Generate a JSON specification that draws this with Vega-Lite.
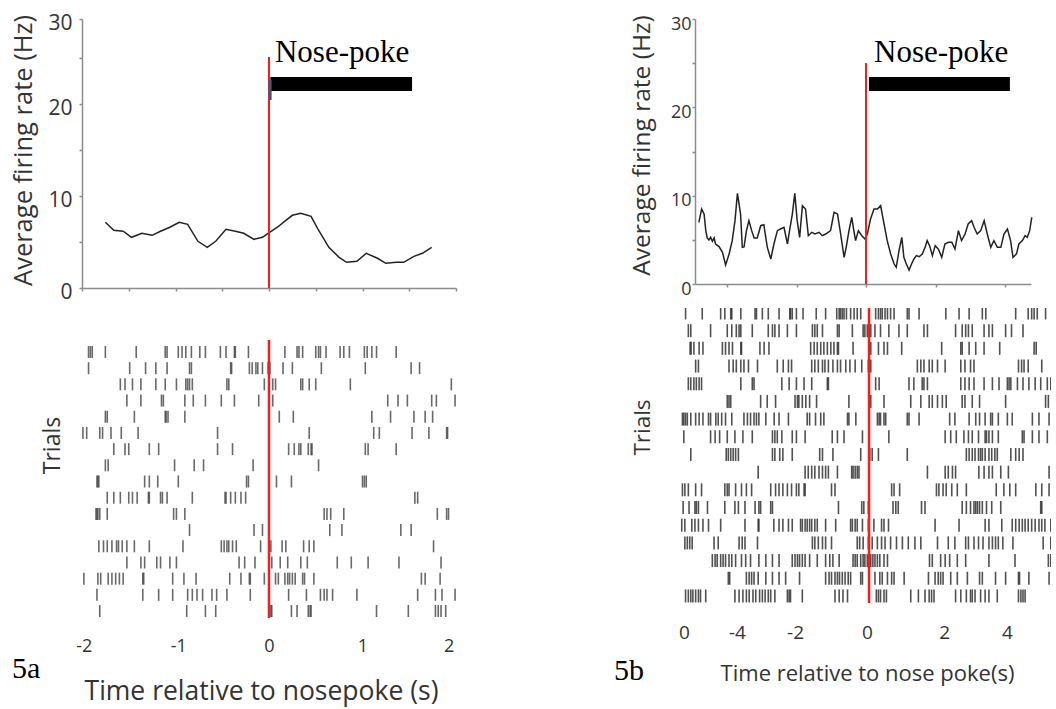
{
"$schema":"https://vega.github.io/schema/vega-lite/v6.json",
"background":"white",
"padding":{"left":10,"top":12,"right":0,"bottom":2},
"bounds":"flush",
"spacing":593,
"config":{"view":{"stroke":null},"axis":{"grid":false,"domainColor":"#8c8c8c","domainWidth":1.5,"tickColor":"#8c8c8c","tickWidth":1.5,"tickSize":3,"labelFont":"Open Sans","labelColor":"#333","titleFont":"Open Sans","titleColor":"#333","titleFontWeight":"normal","labelFlush":false,"labelOverlap":false}},
"datasets":{
"pa":[{"t":-1.75,"v":7.16},{"t":-1.66,"v":6.29},{"t":-1.56,"v":6.18},{"t":-1.47,"v":5.52},{"t":-1.36,"v":5.96},{"t":-1.25,"v":5.74},{"t":-1.16,"v":6.18},{"t":-1.06,"v":6.62},{"t":-0.96,"v":7.16},{"t":-0.87,"v":6.94},{"t":-0.76,"v":5.09},{"t":-0.66,"v":4.43},{"t":-0.57,"v":5.09},{"t":-0.46,"v":6.4},{"t":-0.36,"v":6.18},{"t":-0.27,"v":5.96},{"t":-0.16,"v":5.3},{"t":-0.07,"v":5.52},{"t":-0.01,"v":5.96},{"t":0.09,"v":6.62},{"t":0.18,"v":7.37},{"t":0.25,"v":7.92},{"t":0.34,"v":8.14},{"t":0.45,"v":7.81},{"t":0.53,"v":6.29},{"t":0.64,"v":4.43},{"t":0.75,"v":3.34},{"t":0.83,"v":2.8},{"t":0.94,"v":2.91},{"t":1.04,"v":3.78},{"t":1.16,"v":3.24},{"t":1.25,"v":2.69},{"t":1.36,"v":2.8},{"t":1.44,"v":2.8},{"t":1.55,"v":3.45},{"t":1.64,"v":3.78},{"t":1.74,"v":4.43}],
"pb":[{"t":-4.81,"v":6.98},{"t":-4.73,"v":8.49},{"t":-4.66,"v":7.92},{"t":-4.61,"v":6.04},{"t":-4.57,"v":5.21},{"t":-4.52,"v":4.98},{"t":-4.47,"v":5.28},{"t":-4.42,"v":4.83},{"t":-4.37,"v":5.21},{"t":-4.33,"v":4.53},{"t":-4.23,"v":4.23},{"t":-4.13,"v":3.58},{"t":-4.04,"v":2.15},{"t":-3.94,"v":3.4},{"t":-3.85,"v":4.91},{"t":-3.77,"v":7.17},{"t":-3.7,"v":10.26},{"t":-3.61,"v":7.92},{"t":-3.56,"v":4.15},{"t":-3.51,"v":4.2},{"t":-3.44,"v":6.04},{"t":-3.37,"v":7.17},{"t":-3.29,"v":6.04},{"t":-3.22,"v":5.21},{"t":-3.13,"v":5.21},{"t":-3.03,"v":6.6},{"t":-2.94,"v":6.72},{"t":-2.84,"v":4.15},{"t":-2.74,"v":2.83},{"t":-2.65,"v":4.53},{"t":-2.55,"v":6.04},{"t":-2.46,"v":6.23},{"t":-2.36,"v":6.42},{"t":-2.26,"v":4.53},{"t":-2.2,"v":6.04},{"t":-2.12,"v":7.92},{"t":-2.05,"v":10.26},{"t":-1.98,"v":7.17},{"t":-1.91,"v":5.28},{"t":-1.83,"v":8.87},{"t":-1.74,"v":8.49},{"t":-1.66,"v":5.47},{"t":-1.56,"v":5.85},{"t":-1.47,"v":5.66},{"t":-1.35,"v":5.85},{"t":-1.26,"v":5.47},{"t":-1.16,"v":5.66},{"t":-1.02,"v":6.04},{"t":-0.92,"v":8.11},{"t":-0.82,"v":7.92},{"t":-0.73,"v":5.66},{"t":-0.63,"v":3.02},{"t":-0.57,"v":4.15},{"t":-0.49,"v":6.04},{"t":-0.41,"v":7.55},{"t":-0.35,"v":6.04},{"t":-0.3,"v":4.91},{"t":-0.22,"v":6.04},{"t":-0.12,"v":5.47},{"t":-0.03,"v":5.09},{"t":0.04,"v":5.66},{"t":0.13,"v":7.36},{"t":0.23,"v":8.49},{"t":0.33,"v":8.49},{"t":0.42,"v":8.87},{"t":0.52,"v":6.79},{"t":0.61,"v":4.91},{"t":0.71,"v":3.4},{"t":0.81,"v":2.26},{"t":0.87,"v":1.89},{"t":0.95,"v":3.77},{"t":1.03,"v":5.28},{"t":1.09,"v":3.02},{"t":1.16,"v":2.26},{"t":1.24,"v":1.58},{"t":1.31,"v":2.26},{"t":1.38,"v":2.83},{"t":1.45,"v":3.21},{"t":1.53,"v":3.09},{"t":1.62,"v":3.4},{"t":1.7,"v":4.15},{"t":1.76,"v":4.91},{"t":1.83,"v":4.34},{"t":1.91,"v":3.21},{"t":1.99,"v":4.34},{"t":2.08,"v":3.96},{"t":2.18,"v":3.02},{"t":2.27,"v":4.53},{"t":2.37,"v":4.72},{"t":2.47,"v":4.72},{"t":2.56,"v":3.96},{"t":2.66,"v":6.04},{"t":2.75,"v":4.91},{"t":2.85,"v":5.66},{"t":2.94,"v":6.79},{"t":3.04,"v":7.17},{"t":3.11,"v":6.42},{"t":3.2,"v":5.66},{"t":3.3,"v":6.04},{"t":3.4,"v":7.17},{"t":3.49,"v":5.66},{"t":3.59,"v":4.15},{"t":3.68,"v":4.91},{"t":3.78,"v":4.15},{"t":3.88,"v":4.15},{"t":3.97,"v":5.66},{"t":4.07,"v":6.23},{"t":4.16,"v":4.91},{"t":4.23,"v":3.02},{"t":4.33,"v":3.4},{"t":4.4,"v":4.53},{"t":4.5,"v":4.91},{"t":4.58,"v":5.47},{"t":4.64,"v":5.28},{"t":4.71,"v":6.04},{"t":4.77,"v":7.55}],
"ra":[
{"r":1,"t":-1.93},{"r":1,"t":-1.91},{"r":1,"t":-1.89},{"r":1,"t":-1.75},{"r":1,"t":-1.42},{"r":1,"t":-1.11},{"r":1,"t":-1.09},{"r":1,"t":-0.97},{"r":1,"t":-0.93},{"r":1,"t":-0.89},{"r":1,"t":-0.83},{"r":1,"t":-0.74},{"r":1,"t":-0.68},{"r":1,"t":-0.52},{"r":1,"t":-0.46},{"r":1,"t":-0.37},{"r":1,"t":-0.36},{"r":1,"t":-0.22},{"r":1,"t":0.17},{"r":1,"t":0.3},{"r":1,"t":0.32},{"r":1,"t":0.36},{"r":1,"t":0.5},{"r":1,"t":0.53},{"r":1,"t":0.55},{"r":1,"t":0.61},{"r":1,"t":0.76},{"r":1,"t":0.8},{"r":1,"t":0.86},{"r":1,"t":1.02},{"r":1,"t":1.05},{"r":1,"t":1.1},{"r":1,"t":1.15},{"r":1,"t":1.36},
{"r":2,"t":-1.93},{"r":2,"t":-1.49},{"r":2,"t":-1.32},{"r":2,"t":-1.21},{"r":2,"t":-1.09},{"r":2,"t":-0.85},{"r":2,"t":-0.83},{"r":2,"t":-0.41},{"r":2,"t":-0.4},{"r":2,"t":-0.21},{"r":2,"t":-0.18},{"r":2,"t":-0.14},{"r":2,"t":-0.12},{"r":2,"t":-0.07},{"r":2,"t":-0.01},{"r":2,"t":0.01},{"r":2,"t":0.15},{"r":2,"t":0.25},{"r":2,"t":0.56},{"r":2,"t":1.03},{"r":2,"t":1.52},{"r":2,"t":1.61},
{"r":3,"t":-1.59},{"r":3,"t":-1.54},{"r":3,"t":-1.46},{"r":3,"t":-1.37},{"r":3,"t":-1.21},{"r":3,"t":-1.11},{"r":3,"t":-0.99},{"r":3,"t":-0.89},{"r":3,"t":-0.87},{"r":3,"t":-0.85},{"r":3,"t":-0.82},{"r":3,"t":-0.45},{"r":3,"t":-0.43},{"r":3,"t":-0.05},{"r":3,"t":0.04},{"r":3,"t":0.07},{"r":3,"t":0.34},{"r":3,"t":0.36},{"r":3,"t":0.43},{"r":3,"t":0.5},{"r":3,"t":0.87},{"r":3,"t":1.95},
{"r":4,"t":-1.52},{"r":4,"t":-1.37},{"r":4,"t":-1.15},{"r":4,"t":-1.13},{"r":4,"t":-0.9},{"r":4,"t":-0.81},{"r":4,"t":-0.68},{"r":4,"t":-0.51},{"r":4,"t":-0.37},{"r":4,"t":-0.11},{"r":4,"t":0.04},{"r":4,"t":1.27},{"r":4,"t":1.38},{"r":4,"t":1.48},{"r":4,"t":1.74},{"r":4,"t":1.79},{"r":4,"t":1.99},
{"r":5,"t":-1.75},{"r":5,"t":-1.73},{"r":5,"t":-1.44},{"r":5,"t":-1.11},{"r":5,"t":-1.1},{"r":5,"t":-1.08},{"r":5,"t":-0.9},{"r":5,"t":0.11},{"r":5,"t":0.26},{"r":5,"t":1.1},{"r":5,"t":1.3},{"r":5,"t":1.55},{"r":5,"t":1.67},{"r":5,"t":1.75},
{"r":6,"t":-1.99},{"r":6,"t":-1.95},{"r":6,"t":-1.81},{"r":6,"t":-1.78},{"r":6,"t":-1.69},{"r":6,"t":-1.58},{"r":6,"t":-1.4},{"r":6,"t":-0.55},{"r":6,"t":0.43},{"r":6,"t":1.12},{"r":6,"t":1.18},{"r":6,"t":1.53},{"r":6,"t":1.71},{"r":6,"t":1.9},{"r":6,"t":1.91},
{"r":7,"t":-1.66},{"r":7,"t":-1.54},{"r":7,"t":-1.5},{"r":7,"t":-1.28},{"r":7,"t":-1.18},{"r":7,"t":-0.55},{"r":7,"t":-0.39},{"r":7,"t":0.21},{"r":7,"t":0.27},{"r":7,"t":0.32},{"r":7,"t":0.34},{"r":7,"t":0.42},{"r":7,"t":0.45},{"r":7,"t":0.46},{"r":7,"t":1.03},{"r":7,"t":1.06},{"r":7,"t":1.36},
{"r":8,"t":-1.75},{"r":8,"t":-1.72},{"r":8,"t":-1.01},{"r":8,"t":-0.8},{"r":8,"t":-0.7},{"r":8,"t":-0.17},{"r":8,"t":0.53},
{"r":9,"t":-1.84},{"r":9,"t":-1.83},{"r":9,"t":-1.82},{"r":9,"t":-1.33},{"r":9,"t":-1.28},{"r":9,"t":-1.19},{"r":9,"t":-0.97},{"r":9,"t":-0.24},{"r":9,"t":-0.22},{"r":9,"t":0.08},{"r":9,"t":0.24},{"r":9,"t":1.0},{"r":9,"t":1.02},{"r":9,"t":1.04},
{"r":10,"t":-1.73},{"r":10,"t":-1.66},{"r":10,"t":-1.59},{"r":10,"t":-1.5},{"r":10,"t":-1.46},{"r":10,"t":-1.41},{"r":10,"t":-1.29},{"r":10,"t":-1.28},{"r":10,"t":-1.16},{"r":10,"t":-1.14},{"r":10,"t":-1.09},{"r":10,"t":-0.82},{"r":10,"t":-0.47},{"r":10,"t":-0.46},{"r":10,"t":-0.41},{"r":10,"t":-0.36},{"r":10,"t":-0.3},{"r":10,"t":-0.25},{"r":10,"t":1.56},{"r":10,"t":1.59},
{"r":11,"t":-1.85},{"r":11,"t":-1.84},{"r":11,"t":-1.83},{"r":11,"t":-1.81},{"r":11,"t":-1.73},{"r":11,"t":-1.02},{"r":11,"t":-0.99},{"r":11,"t":-0.9},{"r":11,"t":0.59},{"r":11,"t":0.62},{"r":11,"t":0.66},{"r":11,"t":0.8},{"r":11,"t":1.8},{"r":11,"t":1.9},{"r":11,"t":1.92},
{"r":12,"t":-0.85},{"r":12,"t":-0.16},{"r":12,"t":-0.07},{"r":12,"t":0.65},{"r":12,"t":0.78},{"r":12,"t":1.41},{"r":12,"t":1.52},
{"r":13,"t":-1.82},{"r":13,"t":-1.77},{"r":13,"t":-1.73},{"r":13,"t":-1.68},{"r":13,"t":-1.63},{"r":13,"t":-1.61},{"r":13,"t":-1.57},{"r":13,"t":-1.52},{"r":13,"t":-1.44},{"r":13,"t":-1.28},{"r":13,"t":-0.92},{"r":13,"t":-0.51},{"r":13,"t":-0.48},{"r":13,"t":-0.45},{"r":13,"t":-0.43},{"r":13,"t":-0.39},{"r":13,"t":-0.35},{"r":13,"t":-0.09},{"r":13,"t":0.02},{"r":13,"t":0.14},{"r":13,"t":0.18},{"r":13,"t":0.37},{"r":13,"t":0.43},{"r":13,"t":0.48},{"r":13,"t":1.76},
{"r":14,"t":-1.52},{"r":14,"t":-1.37},{"r":14,"t":-1.33},{"r":14,"t":-1.2},{"r":14,"t":-1.16},{"r":14,"t":-1.06},{"r":14,"t":-0.99},{"r":14,"t":-0.32},{"r":14,"t":-0.26},{"r":14,"t":-0.15},{"r":14,"t":0.03},{"r":14,"t":0.12},{"r":14,"t":0.2},{"r":14,"t":0.34},{"r":14,"t":0.41},{"r":14,"t":0.73},{"r":14,"t":0.88},{"r":14,"t":1.06},{"r":14,"t":1.39},{"r":14,"t":1.84},
{"r":15,"t":-1.98},{"r":15,"t":-1.83},{"r":15,"t":-1.8},{"r":15,"t":-1.72},{"r":15,"t":-1.68},{"r":15,"t":-1.64},{"r":15,"t":-1.6},{"r":15,"t":-1.56},{"r":15,"t":-1.35},{"r":15,"t":-1.34},{"r":15,"t":-1.03},{"r":15,"t":-0.91},{"r":15,"t":-0.78},{"r":15,"t":-0.42},{"r":15,"t":-0.3},{"r":15,"t":-0.21},{"r":15,"t":-0.2},{"r":15,"t":-0.05},{"r":15,"t":0.07},{"r":15,"t":0.1},{"r":15,"t":0.17},{"r":15,"t":0.2},{"r":15,"t":0.22},{"r":15,"t":0.25},{"r":15,"t":0.28},{"r":15,"t":0.36},{"r":15,"t":0.38},{"r":15,"t":0.48},{"r":15,"t":1.63},{"r":15,"t":1.67},{"r":15,"t":1.83},
{"r":16,"t":-1.84},{"r":16,"t":-1.35},{"r":16,"t":-1.18},{"r":16,"t":-1.03},{"r":16,"t":-0.87},{"r":16,"t":-0.82},{"r":16,"t":-0.77},{"r":16,"t":-0.71},{"r":16,"t":-0.61},{"r":16,"t":-0.56},{"r":16,"t":-0.45},{"r":16,"t":-0.2},{"r":16,"t":0.21},{"r":16,"t":0.4},{"r":16,"t":0.55},{"r":16,"t":0.59},{"r":16,"t":0.62},{"r":16,"t":0.68},{"r":16,"t":0.94},{"r":16,"t":1.59},{"r":16,"t":1.78},{"r":16,"t":1.85},{"r":16,"t":1.99},
{"r":17,"t":-1.81},{"r":17,"t":-0.88},{"r":17,"t":-0.68},{"r":17,"t":-0.57},{"r":17,"t":0.02},{"r":17,"t":0.03},{"r":17,"t":0.24},{"r":17,"t":0.3},{"r":17,"t":0.42},{"r":17,"t":0.44},{"r":17,"t":0.45},{"r":17,"t":1.15},{"r":17,"t":1.49},{"r":17,"t":1.78},{"r":17,"t":1.81},{"r":17,"t":1.84},{"r":17,"t":1.89}],
"rb":[
{"r":1,"t":-5.25},{"r":1,"t":-4.77},{"r":1,"t":-4.24},{"r":1,"t":-4.12},{"r":1,"t":-3.95},{"r":1,"t":-3.92},{"r":1,"t":-3.66},{"r":1,"t":-3.25},{"r":1,"t":-3.21},{"r":1,"t":-3.04},{"r":1,"t":-2.87},{"r":1,"t":-2.56},{"r":1,"t":-2.25},{"r":1,"t":-2.23},{"r":1,"t":-2.18},{"r":1,"t":-2.06},{"r":1,"t":-1.87},{"r":1,"t":-1.49},{"r":1,"t":-1.22},{"r":1,"t":-0.9},{"r":1,"t":-0.83},{"r":1,"t":-0.79},{"r":1,"t":-0.74},{"r":1,"t":-0.69},{"r":1,"t":-0.62},{"r":1,"t":-0.5},{"r":1,"t":-0.4},{"r":1,"t":-0.31},{"r":1,"t":-0.21},{"r":1,"t":0.22},{"r":1,"t":0.3},{"r":1,"t":0.36},{"r":1,"t":0.41},{"r":1,"t":0.49},{"r":1,"t":0.56},{"r":1,"t":0.65},{"r":1,"t":0.75},{"r":1,"t":1.13},{"r":1,"t":1.18},{"r":1,"t":1.47},{"r":1,"t":2.24},{"r":1,"t":2.62},{"r":1,"t":2.91},{"r":1,"t":3.29},{"r":1,"t":3.39},{"r":1,"t":4.25},{"r":1,"t":4.61},{"r":1,"t":4.71},{"r":1,"t":4.78},{"r":1,"t":4.87},{"r":1,"t":5.11},
{"r":2,"t":-5.17},{"r":2,"t":-5.1},{"r":2,"t":-4.53},{"r":2,"t":-4.05},{"r":2,"t":-3.92},{"r":2,"t":-3.79},{"r":2,"t":-3.71},{"r":2,"t":-3.66},{"r":2,"t":-3.33},{"r":2,"t":-2.87},{"r":2,"t":-2.75},{"r":2,"t":-2.68},{"r":2,"t":-2.56},{"r":2,"t":-2.32},{"r":2,"t":-2.06},{"r":2,"t":-1.6},{"r":2,"t":-1.53},{"r":2,"t":-1.46},{"r":2,"t":-1.31},{"r":2,"t":-0.88},{"r":2,"t":-0.83},{"r":2,"t":-0.45},{"r":2,"t":-0.14},{"r":2,"t":-0.09},{"r":2,"t":-0.02},{"r":2,"t":0.03},{"r":2,"t":0.08},{"r":2,"t":0.2},{"r":2,"t":0.36},{"r":2,"t":0.6},{"r":2,"t":0.89},{"r":2,"t":1.13},{"r":2,"t":1.61},{"r":2,"t":1.71},{"r":2,"t":2.52},{"r":2,"t":2.71},{"r":2,"t":2.81},{"r":2,"t":2.89},{"r":2,"t":3.0},{"r":2,"t":3.34},{"r":2,"t":3.48},{"r":2,"t":3.58},{"r":2,"t":3.96},{"r":2,"t":4.13},{"r":2,"t":4.46},
{"r":3,"t":-5.12},{"r":3,"t":-5.09},{"r":3,"t":-5.01},{"r":3,"t":-4.86},{"r":3,"t":-4.75},{"r":3,"t":-4.19},{"r":3,"t":-4.1},{"r":3,"t":-4.0},{"r":3,"t":-3.9},{"r":3,"t":-3.66},{"r":3,"t":-3.64},{"r":3,"t":-3.11},{"r":3,"t":-2.99},{"r":3,"t":-2.85},{"r":3,"t":-1.65},{"r":3,"t":-1.55},{"r":3,"t":-1.46},{"r":3,"t":-1.36},{"r":3,"t":-1.27},{"r":3,"t":-1.17},{"r":3,"t":-1.07},{"r":3,"t":-0.98},{"r":3,"t":-0.88},{"r":3,"t":-0.85},{"r":3,"t":-0.43},{"r":3,"t":0.03},{"r":3,"t":0.08},{"r":3,"t":0.3},{"r":3,"t":0.46},{"r":3,"t":0.56},{"r":3,"t":0.97},{"r":3,"t":2.12},{"r":3,"t":2.67},{"r":3,"t":2.71},{"r":3,"t":2.91},{"r":3,"t":3.1},{"r":3,"t":3.34},{"r":3,"t":3.79},{"r":3,"t":4.78},{"r":3,"t":4.84},
{"r":4,"t":-4.96},{"r":4,"t":-4.88},{"r":4,"t":-4.0},{"r":4,"t":-3.88},{"r":4,"t":-3.79},{"r":4,"t":-3.66},{"r":4,"t":-3.57},{"r":4,"t":-3.44},{"r":4,"t":-3.18},{"r":4,"t":-2.61},{"r":4,"t":-2.44},{"r":4,"t":-2.29},{"r":4,"t":-2.2},{"r":4,"t":-1.62},{"r":4,"t":-1.53},{"r":4,"t":-1.43},{"r":4,"t":-1.31},{"r":4,"t":-1.24},{"r":4,"t":-1.14},{"r":4,"t":-1.01},{"r":4,"t":-0.88},{"r":4,"t":-0.79},{"r":4,"t":-0.64},{"r":4,"t":-0.52},{"r":4,"t":-0.37},{"r":4,"t":-0.18},{"r":4,"t":0.01},{"r":4,"t":0.08},{"r":4,"t":1.42},{"r":4,"t":1.52},{"r":4,"t":1.61},{"r":4,"t":1.76},{"r":4,"t":1.85},{"r":4,"t":2.0},{"r":4,"t":2.22},{"r":4,"t":2.67},{"r":4,"t":2.79},{"r":4,"t":2.95},{"r":4,"t":3.05},{"r":4,"t":4.33},{"r":4,"t":4.42},{"r":4,"t":4.49},{"r":4,"t":4.61},{"r":4,"t":5.0},
{"r":5,"t":-5.17},{"r":5,"t":-5.1},{"r":5,"t":-5.01},{"r":5,"t":-4.94},{"r":5,"t":-4.86},{"r":5,"t":-4.79},{"r":5,"t":-3.66},{"r":5,"t":-3.33},{"r":5,"t":-3.28},{"r":5,"t":-2.48},{"r":5,"t":-2.27},{"r":5,"t":-2.06},{"r":5,"t":-1.84},{"r":5,"t":-1.62},{"r":5,"t":-1.17},{"r":5,"t":-1.14},{"r":5,"t":0.22},{"r":5,"t":0.32},{"r":5,"t":1.18},{"r":5,"t":1.32},{"r":5,"t":1.56},{"r":5,"t":1.61},{"r":5,"t":1.71},{"r":5,"t":2.67},{"r":5,"t":2.79},{"r":5,"t":2.91},{"r":5,"t":3.05},{"r":5,"t":3.34},{"r":5,"t":3.58},{"r":5,"t":3.77},{"r":5,"t":4.01},{"r":5,"t":4.06},{"r":5,"t":4.11},{"r":5,"t":4.3},{"r":5,"t":4.46},{"r":5,"t":4.63},{"r":5,"t":4.81},{"r":5,"t":4.97},{"r":5,"t":5.16},{"r":5,"t":5.26},
{"r":6,"t":-4.05},{"r":6,"t":-4.0},{"r":6,"t":-3.95},{"r":6,"t":-3.09},{"r":6,"t":-2.9},{"r":6,"t":-2.66},{"r":6,"t":-2.1},{"r":6,"t":-2.03},{"r":6,"t":-1.99},{"r":6,"t":-1.89},{"r":6,"t":-1.79},{"r":6,"t":-1.68},{"r":6,"t":-1.48},{"r":6,"t":-0.55},{"r":6,"t":0.08},{"r":6,"t":0.46},{"r":6,"t":1.23},{"r":6,"t":1.52},{"r":6,"t":1.76},{"r":6,"t":1.85},{"r":6,"t":2.0},{"r":6,"t":2.14},{"r":6,"t":2.25},{"r":6,"t":2.71},{"r":6,"t":2.79},{"r":6,"t":3.0},{"r":6,"t":3.21},{"r":6,"t":3.96},{"r":6,"t":5.11},{"r":6,"t":5.19},{"r":6,"t":5.3},
{"r":7,"t":-5.34},{"r":7,"t":-5.3},{"r":7,"t":-5.25},{"r":7,"t":-5.2},{"r":7,"t":-5.1},{"r":7,"t":-4.96},{"r":7,"t":-4.86},{"r":7,"t":-4.75},{"r":7,"t":-4.59},{"r":7,"t":-4.53},{"r":7,"t":-4.38},{"r":7,"t":-4.31},{"r":7,"t":-4.21},{"r":7,"t":-4.1},{"r":7,"t":-3.92},{"r":7,"t":-3.57},{"r":7,"t":-3.47},{"r":7,"t":-3.38},{"r":7,"t":-3.28},{"r":7,"t":-3.21},{"r":7,"t":-3.14},{"r":7,"t":-2.94},{"r":7,"t":-2.7},{"r":7,"t":-2.56},{"r":7,"t":-2.29},{"r":7,"t":-1.75},{"r":7,"t":-1.68},{"r":7,"t":-1.51},{"r":7,"t":-1.36},{"r":7,"t":-1.27},{"r":7,"t":-0.59},{"r":7,"t":-0.55},{"r":7,"t":-0.35},{"r":7,"t":0.27},{"r":7,"t":0.32},{"r":7,"t":0.36},{"r":7,"t":0.46},{"r":7,"t":0.51},{"r":7,"t":1.13},{"r":7,"t":1.18},{"r":7,"t":1.47},{"r":7,"t":2.35},{"r":7,"t":2.5},{"r":7,"t":2.91},{"r":7,"t":3.1},{"r":7,"t":3.21},{"r":7,"t":3.37},{"r":7,"t":3.53},{"r":7,"t":3.58},{"r":7,"t":3.75},{"r":7,"t":4.01},{"r":7,"t":4.15},{"r":7,"t":4.73},{"r":7,"t":4.92},{"r":7,"t":5.21},
{"r":8,"t":-5.3},{"r":8,"t":-4.53},{"r":8,"t":-4.4},{"r":8,"t":-4.27},{"r":8,"t":-4.05},{"r":8,"t":-3.83},{"r":8,"t":-3.6},{"r":8,"t":-3.33},{"r":8,"t":-2.75},{"r":8,"t":-2.68},{"r":8,"t":-2.61},{"r":8,"t":-2.48},{"r":8,"t":-2.18},{"r":8,"t":-2.06},{"r":8,"t":-1.81},{"r":8,"t":-1.03},{"r":8,"t":-0.88},{"r":8,"t":-0.69},{"r":8,"t":-0.16},{"r":8,"t":0.6},{"r":8,"t":2.22},{"r":8,"t":2.38},{"r":8,"t":2.54},{"r":8,"t":2.76},{"r":8,"t":2.89},{"r":8,"t":3.0},{"r":8,"t":3.18},{"r":8,"t":3.37},{"r":8,"t":3.41},{"r":8,"t":3.48},{"r":8,"t":3.58},{"r":8,"t":3.75},{"r":8,"t":4.44},{"r":8,"t":4.49},{"r":8,"t":4.73},{"r":8,"t":4.92},{"r":8,"t":5.16},
{"r":9,"t":-5.1},{"r":9,"t":-4.08},{"r":9,"t":-4.02},{"r":9,"t":-3.95},{"r":9,"t":-3.88},{"r":9,"t":-3.81},{"r":9,"t":-3.73},{"r":9,"t":-2.75},{"r":9,"t":-2.68},{"r":9,"t":-2.54},{"r":9,"t":-2.45},{"r":9,"t":-2.18},{"r":9,"t":-1.39},{"r":9,"t":-1.31},{"r":9,"t":-1.01},{"r":9,"t":-0.21},{"r":9,"t":0.05},{"r":9,"t":0.12},{"r":9,"t":0.3},{"r":9,"t":1.13},{"r":9,"t":2.83},{"r":9,"t":2.91},{"r":9,"t":3.0},{"r":9,"t":3.08},{"r":9,"t":3.18},{"r":9,"t":3.24},{"r":9,"t":3.29},{"r":9,"t":3.37},{"r":9,"t":3.48},{"r":9,"t":3.56},{"r":9,"t":3.65},{"r":9,"t":3.72},{"r":9,"t":4.11},{"r":9,"t":4.25},{"r":9,"t":4.35},{"r":9,"t":4.46},{"r":9,"t":5.3},
{"r":10,"t":-3.16},{"r":10,"t":-1.81},{"r":10,"t":-1.72},{"r":10,"t":-1.62},{"r":10,"t":-1.53},{"r":10,"t":-1.41},{"r":10,"t":-1.31},{"r":10,"t":-1.22},{"r":10,"t":-1.14},{"r":10,"t":-0.88},{"r":10,"t":-0.47},{"r":10,"t":-0.43},{"r":10,"t":-0.37},{"r":10,"t":-0.31},{"r":10,"t":-0.26},{"r":10,"t":1.71},{"r":10,"t":2.22},{"r":10,"t":2.31},{"r":10,"t":2.43},{"r":10,"t":2.52},{"r":10,"t":3.19},{"r":10,"t":3.34},{"r":10,"t":3.48},{"r":10,"t":3.58},{"r":10,"t":3.82},{"r":10,"t":4.04},{"r":10,"t":5.21},
{"r":11,"t":-5.34},{"r":11,"t":-5.27},{"r":11,"t":-5.17},{"r":11,"t":-4.96},{"r":11,"t":-4.79},{"r":11,"t":-4.12},{"r":11,"t":-4.05},{"r":11,"t":-4.0},{"r":11,"t":-3.81},{"r":11,"t":-3.64},{"r":11,"t":-3.5},{"r":11,"t":-3.35},{"r":11,"t":-2.8},{"r":11,"t":-2.66},{"r":11,"t":-2.56},{"r":11,"t":-2.45},{"r":11,"t":-2.32},{"r":11,"t":-2.2},{"r":11,"t":-2.06},{"r":11,"t":-1.99},{"r":11,"t":-1.84},{"r":11,"t":-1.81},{"r":11,"t":-1.05},{"r":11,"t":-0.95},{"r":11,"t":0.68},{"r":11,"t":0.75},{"r":11,"t":0.91},{"r":11,"t":1.97},{"r":11,"t":2.04},{"r":11,"t":2.16},{"r":11,"t":2.25},{"r":11,"t":2.41},{"r":11,"t":2.57},{"r":11,"t":2.83},{"r":11,"t":3.69},{"r":11,"t":3.91},{"r":11,"t":4.08},{"r":11,"t":4.25},{"r":11,"t":4.83},{"r":11,"t":5.0},{"r":11,"t":5.21},
{"r":12,"t":-5.32},{"r":12,"t":-5.15},{"r":12,"t":-4.98},{"r":12,"t":-4.94},{"r":12,"t":-4.88},{"r":12,"t":-4.62},{"r":12,"t":-4.12},{"r":12,"t":-3.83},{"r":12,"t":-3.73},{"r":12,"t":-3.54},{"r":12,"t":-3.25},{"r":12,"t":-3.14},{"r":12,"t":-3.09},{"r":12,"t":-2.8},{"r":12,"t":-2.75},{"r":12,"t":-0.85},{"r":12,"t":-0.18},{"r":12,"t":-0.12},{"r":12,"t":0.01},{"r":12,"t":0.72},{"r":12,"t":0.8},{"r":12,"t":0.87},{"r":12,"t":1.54},{"r":12,"t":1.64},{"r":12,"t":2.71},{"r":12,"t":2.83},{"r":12,"t":2.95},{"r":12,"t":3.05},{"r":12,"t":3.1},{"r":12,"t":3.15},{"r":12,"t":3.21},{"r":12,"t":3.29},{"r":12,"t":3.41},{"r":12,"t":3.56},{"r":12,"t":3.82},{"r":12,"t":4.97},{"r":12,"t":5.0},{"r":12,"t":5.3},
{"r":13,"t":-5.36},{"r":13,"t":-5.27},{"r":13,"t":-5.07},{"r":13,"t":-4.98},{"r":13,"t":-4.88},{"r":13,"t":-4.75},{"r":13,"t":-4.59},{"r":13,"t":-4.24},{"r":13,"t":-3.54},{"r":13,"t":-3.16},{"r":13,"t":-3.14},{"r":13,"t":-2.71},{"r":13,"t":-2.56},{"r":13,"t":-2.45},{"r":13,"t":-2.29},{"r":13,"t":-2.18},{"r":13,"t":-1.94},{"r":13,"t":-1.89},{"r":13,"t":-1.81},{"r":13,"t":-1.75},{"r":13,"t":-1.68},{"r":13,"t":-1.62},{"r":13,"t":-1.53},{"r":13,"t":-1.46},{"r":13,"t":-1.22},{"r":13,"t":-0.93},{"r":13,"t":-0.5},{"r":13,"t":-0.45},{"r":13,"t":-0.37},{"r":13,"t":-0.31},{"r":13,"t":-0.16},{"r":13,"t":0.01},{"r":13,"t":0.17},{"r":13,"t":0.39},{"r":13,"t":0.46},{"r":13,"t":0.59},{"r":13,"t":1.93},{"r":13,"t":2.62},{"r":13,"t":3.37},{"r":13,"t":3.48},{"r":13,"t":3.85},{"r":13,"t":4.15},{"r":13,"t":4.25},{"r":13,"t":4.35},{"r":13,"t":4.44},{"r":13,"t":4.52},{"r":13,"t":4.61},{"r":13,"t":4.71},{"r":13,"t":4.81},{"r":13,"t":4.92},{"r":13,"t":5.0},{"r":13,"t":5.09},{"r":13,"t":5.26},{"r":13,"t":5.3},
{"r":14,"t":-5.27},{"r":14,"t":-5.2},{"r":14,"t":-5.13},{"r":14,"t":-5.06},{"r":14,"t":-4.43},{"r":14,"t":-4.31},{"r":14,"t":-3.71},{"r":14,"t":-3.62},{"r":14,"t":-3.54},{"r":14,"t":-3.18},{"r":14,"t":-1.6},{"r":14,"t":-1.53},{"r":14,"t":-1.43},{"r":14,"t":-1.31},{"r":14,"t":-1.22},{"r":14,"t":-1.05},{"r":14,"t":-0.31},{"r":14,"t":-0.24},{"r":14,"t":-0.14},{"r":14,"t":0.01},{"r":14,"t":0.12},{"r":14,"t":0.27},{"r":14,"t":0.39},{"r":14,"t":0.49},{"r":14,"t":0.65},{"r":14,"t":0.82},{"r":14,"t":0.99},{"r":14,"t":1.16},{"r":14,"t":1.35},{"r":14,"t":1.52},{"r":14,"t":2.0},{"r":14,"t":2.31},{"r":14,"t":2.5},{"r":14,"t":2.81},{"r":14,"t":2.89},{"r":14,"t":3.05},{"r":14,"t":3.18},{"r":14,"t":3.31},{"r":14,"t":3.48},{"r":14,"t":3.58},{"r":14,"t":3.67},{"r":14,"t":3.75},{"r":14,"t":3.88},{"r":14,"t":4.17},{"r":14,"t":5.04},{"r":14,"t":5.26},
{"r":15,"t":-4.48},{"r":15,"t":-4.4},{"r":15,"t":-4.34},{"r":15,"t":-4.24},{"r":15,"t":-4.17},{"r":15,"t":-4.1},{"r":15,"t":-4.0},{"r":15,"t":-3.92},{"r":15,"t":-3.81},{"r":15,"t":-3.64},{"r":15,"t":-3.52},{"r":15,"t":-3.38},{"r":15,"t":-3.14},{"r":15,"t":-2.94},{"r":15,"t":-2.75},{"r":15,"t":-2.56},{"r":15,"t":-2.18},{"r":15,"t":-2.1},{"r":15,"t":-2.03},{"r":15,"t":-1.97},{"r":15,"t":-1.89},{"r":15,"t":-1.81},{"r":15,"t":-1.68},{"r":15,"t":-1.46},{"r":15,"t":-1.22},{"r":15,"t":-1.1},{"r":15,"t":-1.01},{"r":15,"t":-0.83},{"r":15,"t":-0.43},{"r":15,"t":-0.37},{"r":15,"t":-0.31},{"r":15,"t":-0.21},{"r":15,"t":-0.14},{"r":15,"t":-0.09},{"r":15,"t":-0.02},{"r":15,"t":0.08},{"r":15,"t":0.14},{"r":15,"t":0.2},{"r":15,"t":0.27},{"r":15,"t":0.34},{"r":15,"t":0.46},{"r":15,"t":0.56},{"r":15,"t":1.77},{"r":15,"t":1.85},{"r":15,"t":2.09},{"r":15,"t":2.22},{"r":15,"t":2.35},{"r":15,"t":2.57},{"r":15,"t":2.81},{"r":15,"t":3.48},{"r":15,"t":4.23},{"r":15,"t":5.19},{"r":15,"t":5.26},
{"r":16,"t":-4.02},{"r":16,"t":-3.98},{"r":16,"t":-3.5},{"r":16,"t":-3.42},{"r":16,"t":-3.35},{"r":16,"t":-3.28},{"r":16,"t":-3.16},{"r":16,"t":-2.94},{"r":16,"t":-2.75},{"r":16,"t":-2.56},{"r":16,"t":-2.37},{"r":16,"t":-1.97},{"r":16,"t":-1.22},{"r":16,"t":-1.12},{"r":16,"t":-1.05},{"r":16,"t":-0.95},{"r":16,"t":-0.88},{"r":16,"t":-0.82},{"r":16,"t":-0.74},{"r":16,"t":-0.66},{"r":16,"t":-0.57},{"r":16,"t":-0.5},{"r":16,"t":-0.21},{"r":16,"t":-0.16},{"r":16,"t":0.2},{"r":16,"t":0.34},{"r":16,"t":0.41},{"r":16,"t":0.56},{"r":16,"t":0.68},{"r":16,"t":0.75},{"r":16,"t":1.04},{"r":16,"t":1.74},{"r":16,"t":1.93},{"r":16,"t":2.02},{"r":16,"t":2.09},{"r":16,"t":2.16},{"r":16,"t":2.38},{"r":16,"t":2.57},{"r":16,"t":2.86},{"r":16,"t":3.21},{"r":16,"t":3.29},{"r":16,"t":3.67},{"r":16,"t":3.96},{"r":16,"t":4.33},{"r":16,"t":4.36},{"r":16,"t":4.63},{"r":16,"t":5.21},
{"r":17,"t":-5.25},{"r":17,"t":-5.17},{"r":17,"t":-5.1},{"r":17,"t":-5.04},{"r":17,"t":-4.96},{"r":17,"t":-4.88},{"r":17,"t":-4.82},{"r":17,"t":-4.67},{"r":17,"t":-3.83},{"r":17,"t":-3.71},{"r":17,"t":-3.6},{"r":17,"t":-3.5},{"r":17,"t":-3.42},{"r":17,"t":-3.31},{"r":17,"t":-3.23},{"r":17,"t":-3.12},{"r":17,"t":-3.04},{"r":17,"t":-2.96},{"r":17,"t":-2.87},{"r":17,"t":-2.8},{"r":17,"t":-2.68},{"r":17,"t":-2.32},{"r":17,"t":-2.27},{"r":17,"t":-2.23},{"r":17,"t":-1.89},{"r":17,"t":-0.95},{"r":17,"t":-0.83},{"r":17,"t":-0.72},{"r":17,"t":-0.59},{"r":17,"t":0.24},{"r":17,"t":0.3},{"r":17,"t":0.36},{"r":17,"t":0.46},{"r":17,"t":0.53},{"r":17,"t":1.23},{"r":17,"t":1.45},{"r":17,"t":1.64},{"r":17,"t":1.76},{"r":17,"t":1.83},{"r":17,"t":1.9},{"r":17,"t":2.52},{"r":17,"t":2.67},{"r":17,"t":2.83},{"r":17,"t":2.95},{"r":17,"t":3.0},{"r":17,"t":3.08},{"r":17,"t":3.24},{"r":17,"t":3.37},{"r":17,"t":3.48},{"r":17,"t":3.72},{"r":17,"t":4.33},{"r":17,"t":4.4},{"r":17,"t":4.46},{"r":17,"t":4.52}]
},
"hconcat":[
{"vconcat":[
 {"width":374,"height":269,
  "layer":[
   {"data":{"name":"pa"},"mark":{"type":"line","color":"#222","strokeWidth":1.5},
    "encoding":{
     "x":{"field":"t","type":"quantitative","scale":{"domain":[-2,2],"nice":false,"zero":false},"axis":{"values":[-2,-1.5,-1,-0.5,0,0.5,1,1.5,2],"labels":false,"title":null}},
     "y":{"field":"v","type":"quantitative","scale":{"domain":[0,29.3],"nice":false,"zero":false},"axis":{"values":[0,5,10,15,20,25,29.3],"labelExpr":"datum.value==0?'0':datum.value==10?'10':datum.value==20?'20':datum.value>29?'30':''","labelFontSize":21,"labelPadding":7,"labelOffset":4,"title":"Average firing rate (Hz)","titleFontSize":25.5,"titleX":-51,"titleY":131,"titleAngle":-90,"titleAlign":"center","titleBaseline":"alphabetic"}}}},
   {"data":{"values":[{}]},"mark":{"type":"rule","color":"#ff1a1a","strokeWidth":2},"encoding":{"x":{"datum":0},"y":{"datum":0},"y2":{"datum":25.16}}},
   {"data":{"values":[{}]},"mark":{"type":"rect","color":"#000"},"encoding":{"x":{"datum":0.015},"x2":{"datum":1.53},"y":{"datum":21.46},"y2":{"datum":22.98}}},
   {"data":{"values":[{}]},"mark":{"type":"rule","color":"#2f5d8a","strokeWidth":3},"encoding":{"x":{"datum":0.012},"y":{"datum":20.48},"y2":{"datum":22.66}}},
   {"data":{"values":[{}]},"mark":{"type":"text","align":"left","baseline":"alphabetic","font":"Liberation Serif","fontSize":31,"color":"#000"},"encoding":{"x":{"datum":0.064},"y":{"datum":24.6},"text":{"value":"Nose-poke"}}}
  ]},
 {"width":374,"height":278,
  "layer":[
   {"data":{"name":"ra"},"mark":{"type":"tick","orient":"vertical","size":12,"thickness":1.6,"color":"#444","opacity":0.8},
    "encoding":{
     "x":{"field":"t","type":"quantitative","scale":{"domain":[-2,2],"nice":false,"zero":false},"axis":{"values":[-1.98,-0.97,0,1.0,1.92],"labelExpr":"''+round(datum.value)","domain":false,"ticks":false,"labelBaseline":"alphabetic","labelPadding":33,"labelFontSize":18,"title":"Time relative to nosepoke (s)","titleFontSize":26.5,"titleX":179,"titleY":81,"titleAlign":"center","titleBaseline":"alphabetic"}},
     "y":{"field":"r","type":"quantitative","scale":{"domain":[0.26,17.43],"reverse":true,"nice":false,"zero":false},"axis":{"domain":false,"ticks":false,"labels":false,"title":"Trials","titleFontSize":23,"titleX":-23,"titleY":105,"titleAngle":-90,"titleAlign":"center","titleBaseline":"alphabetic"}}}},
   {"data":{"values":[{}]},"mark":{"type":"rule","color":"#ff1a1a","strokeWidth":2.5},"encoding":{"x":{"datum":0}}},
   {"data":{"values":[{}]},"mark":{"type":"text","align":"left","baseline":"alphabetic","font":"Liberation Serif","fontSize":30,"color":"#000"},"encoding":{"x":{"datum":-2.75},"y":{"datum":21.14},"text":{"value":"5a"}}}
  ]}
 ],"spacing":52,"bounds":"flush"},
{"vconcat":[
 {"width":336,"height":265,
  "layer":[
   {"data":{"name":"pb"},"mark":{"type":"line","color":"#222","strokeWidth":1.5},
    "encoding":{
     "x":{"field":"t","type":"quantitative","scale":{"domain":[-4.921,4.748],"nice":false,"zero":false},"axis":{"values":[-4,-2,0,2,4],"labels":false,"title":null}},
     "y":{"field":"v","type":"quantitative","scale":{"domain":[0,30],"nice":false,"zero":false},"axis":{"values":[0,5,10,15,20,25,30],"labelExpr":"datum.value%10==0?''+datum.value:''","labelFontSize":18,"labelPadding":1,"labelOffset":5,"title":"Average firing rate (Hz)","titleFontSize":24.5,"titleX":-46,"titleY":126,"titleAngle":-90,"titleAlign":"center","titleBaseline":"alphabetic"}}}},
   {"data":{"values":[{}]},"mark":{"type":"rule","color":"#ff1a1a","strokeWidth":2},"encoding":{"x":{"datum":0},"y":{"datum":0},"y2":{"datum":25.02}}},
   {"data":{"values":[{}]},"mark":{"type":"rect","color":"#000"},"encoding":{"x":{"datum":0.086},"x2":{"datum":4.14},"y":{"datum":21.85},"y2":{"datum":23.43}}},
   {"data":{"values":[{}]},"mark":{"type":"text","align":"left","baseline":"alphabetic","font":"Liberation Serif","fontSize":31,"color":"#000"},"encoding":{"x":{"datum":0.23},"y":{"datum":25.17},"text":{"value":"Nose-poke"}}}
  ]},
 {"width":376,"height":295,
  "layer":[
   {"data":{"name":"rb"},"mark":{"type":"tick","orient":"vertical","size":13,"thickness":1.6,"color":"#333","opacity":0.85,"clip":true},
    "encoding":{
     "x":{"field":"t","type":"quantitative","scale":{"domain":[-5.554,5.266],"nice":false,"zero":false},"axis":{"values":[-5.295,-3.77,-2.1,-0.03,2.19,4.0],"labelExpr":"datum.value<-5?'0':''+(round(datum.value/2)*2)","domain":false,"ticks":false,"labelBaseline":"alphabetic","labelPadding":35,"labelFontSize":19,"title":"Time relative to nose poke(s)","titleFontSize":22,"titleX":192,"titleY":77,"titleAlign":"center","titleBaseline":"alphabetic"}},
     "y":{"field":"r","type":"quantitative","scale":{"domain":[0.717,17.4],"reverse":true,"nice":false,"zero":false},"axis":{"domain":false,"ticks":false,"labels":false,"title":"Trials","titleFontSize":22.5,"titleX":-26,"titleY":119,"titleAngle":-90,"titleAlign":"center","titleBaseline":"alphabetic"}}}},
   {"data":{"values":[{}]},"mark":{"type":"rule","color":"#ff1a1a","strokeWidth":2.5},"encoding":{"x":{"datum":0.03}}},
   {"data":{"values":[{}]},"mark":{"type":"text","align":"left","baseline":"alphabetic","font":"Liberation Serif","fontSize":30,"color":"#000"},"encoding":{"x":{"datum":-7.31},"y":{"datum":21.75},"text":{"value":"5b"}}}
  ]}
 ],"spacing":24,"bounds":"flush","center":true}
]
}
